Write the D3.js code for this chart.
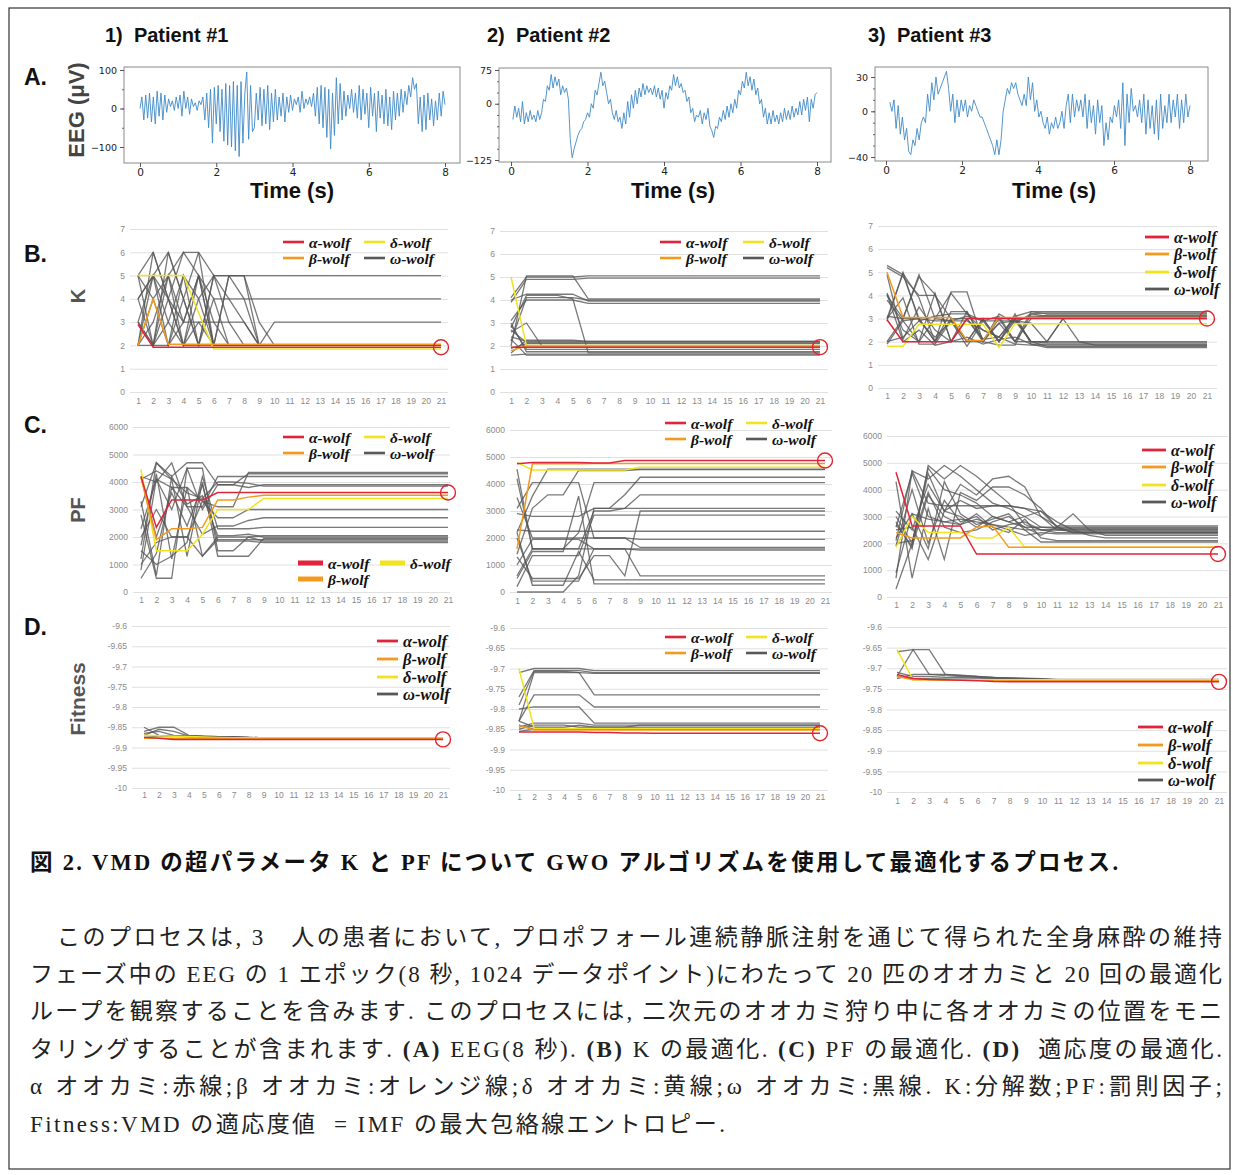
<!DOCTYPE html>
<html><head><meta charset="utf-8">
<script src="https://cdn.jsdelivr.net/npm/d3@7"></script>
<style>body{margin:0;background:#fff}svg{display:block}</style>
</head><body>
<svg id="c" width="1233" height="1175"></svg>
<script>
// ---------------- DATA ----------------
const patients = ["1)  Patient #1", "2)  Patient #2", "3)  Patient #3"];
const rowLetters = ["A.", "B.", "C.", "D."];
const eegXTicks = [0, 2, 4, 6, 8];
const eeg1Ticks = [-100, 0, 100], eeg1Minor = [-100, -50, 0, 50, 100];
const eeg2Ticks = [-125, 0, 75], eeg2Minor = [-125, -100, -75, -50, -25, 0, 25, 50, 75];
const eeg3Ticks = [-40, 0, 30], eeg3Minor = [-40, -30, -20, -10, 0, 10, 20, 30];
const eeg1Span = [0, 8], eeg2Span = [0.05, 8], eeg3Span = [0.1, 8];
const eeg1 = [0,30,-30,35,-25,40,-35,30,-40,45,-20,40,-30,35,-10,25,5,20,-5,30,0,35,-20,45,0,30,
 -15,25,5,15,-5,20,10,30,
 -30,40,-50,50,-90,55,-40,60,-60,50,-85,65,-95,60,-100,70,-110,60,-125,70,-90,40,95,-80,60,-60,-50,
 40,-30,55,-45,50,-40,60,-55,40,-35,50,-30,
 30,-20,40,-35,30,-10,35,-5,25,10,30,-10,45,0,25,10,30,5,40,-20,55,-40,60,-50,
 55,-75,50,-105,40,-70,80,-40,65,-30,
 45,-20,35,0,50,-10,40,-25,60,-30,50,-15,40,-50,55,-20,40,-60,45,-25,35,-40,50,-45,30,-55,45,-30,40,-20,50,-10,45,10,60,30,80,50,65,
 -40,30,-60,35,-55,40,-30,25,-45,20,-30,40,-20,45,10];
const eeg2 = [-35,-5,-30,-10,-40,5,-45,-20,-40,-15,-35,-25,-40,-15,-35,-20,
 10,5,40,30,65,35,60,40,55,
 20,40,25,35,10,
 -80,-120,-100,-85,
 -70,-60,-55,-40,-35,-20,-30,0,-10,30,20,45,70,
 40,50,25,0,10,-20,-35,-15,-40,-30,-55,-20,
 -45,5,-30,20,-10,30,0,35,15,45,20,40,25,35,20,40,15,35,10,30,
 -10,25,10,40,30,65,40,60,35,45,25,
 30,5,15,-20,-10,-40,-25,-30,-15,-45,
 -20,-35,-10,-50,-60,-75,-50,-55,-30,-40,
 -15,-35,-5,-30,0,-20,10,-10,30,20,
 50,35,70,40,60,30,55,20,35,0,
 10,-30,-10,-45,-20,-45,-15,-40,-25,-45,
 -20,-40,-10,-35,-15,-35,-5,-30,-10,-25,
 5,-25,10,-15,15,-40,10,-10,20,25];
const eeg3 = [8,0,10,-15,5,-20,-5,-25,-15,-35,
 -38,-25,-30,-15,-25,-10,-5,-10,
 15,0,25,10,30,15,20,25,30,35,
 20,0,15,-10,10,-5,10,0,
 10,-5,5,0,10,5,0,-5,
 -5,-10,-15,-20,-25,-30,-38,-25,-38,-25,
 0,10,20,15,25,20,25,15,10,5,
 15,5,30,10,25,0,10,-5,0,-10,
 -15,-5,-20,-10,-15,-5,-15,-10,0,-15,5,15,-10,15,
 -5,10,0,10,-5,15,-15,10,-10,5,-20,10,-10,5,
 -30,-10,-25,-5,-10,5,-5,10,-15,25,-30,
 15,-10,20,0,5,-5,10,-10,15,-20,10,-15,5,-20,
 10,-25,15,-15,5,-10,15,-10,10,-5,15,-15,10,-10,15,-5,5];

const iterations = [1,2,3,4,5,6,7,8,9,10,11,12,13,14,15,16,17,18,19,20,21];
const kTicks = [0,1,2,3,4,5,6,7];
const pfTicks = [0,1000,2000,3000,4000,5000,6000];
const fitTicks = [-10,-9.95,-9.9,-9.85,-9.8,-9.75,-9.7,-9.65,-9.6];
const wolfNames = ["α-wolf","β-wolf","δ-wolf","ω-wolf"];

// ---- K, patient 1
const kP1Alpha = [2.9,1.92,1.92,1.92,1.92,1.92,1.92,1.92,1.92,1.92,1.92,1.92,1.92,1.92,1.92,1.92,1.92,1.92,1.92,1.92,1.92];
const kP1Beta  = [2,4,2.05,2.05,2.05,2.05,2.05,2.05,2.05,2.05,2.05,2.05,2.05,2.05,2.05,2.05,2.05,2.05,2.05,2.05,2.05];
const kP1Delta = [5,5,5,5,3.4,1.85,1.85,1.85,1.85,1.85,1.85,1.85,1.85,1.85,1.85,1.85,1.85,1.85,1.85,1.85,1.85];
const kP1Omega = [
 [5,4,5,6,6,5,5,5,5,5,5,5,5,5,5,5,5,5,5,5,5],
 [2,5,3,2,4,5,4,4,4,4,4,4,4,4,4,4,4,4,4,4,4],
 [3,2,6,4,2,5,3,3,2,3,3,3,3,3,3,3,3,3,3,3,3],
 [2,6,4,2,5,2,5,5,2,2,2,2,2,2,2,2,2,2,2,2,2],
 [5,2,3,5,2,5,5,4,2,2,2,2,2,2,2,2,2,2,2,2,2],
 [4,5,2,4,6,2,2,2,2,2,2,2,2,2,2,2,2,2,2,2,2],
 [2,3,5,2,2,4,2,2,2,2,2,2,2,2,2,2,2,2,2,2,2],
 [3,2,2,5,4,2,2,2,2,2,2,2,2,2,2,2,2,2,2,2,2],
 [5,6,4,2,3,3,3,2,2,2,2,2,2,2,2,2,2,2,2,2,2],
 [2,4,2,3,5,4,4,3,2,2,2,2,2,2,2,2,2,2,2,2,2],
 [4,5,6,4,2,2,2,2,2,2,2,2,2,2,2,2,2,2,2,2,2],
 [2,2,4,3,5,3,2,2,2,2,2,2,2,2,2,2,2,2,2,2,2],
 [3,5,4,6,5,2,5,5,3,2,2,2,2,2,2,2,2,2,2,2,2],
 [4,2,5,3,3,2,2,2,2,2,2,2,2,2,2,2,2,2,2,2,2]];
// ---- K, patient 2
const kP2Alpha = [1.95,1.95,1.95,1.95,1.95,1.95,1.95,1.95,1.95,1.95,1.95,1.95,1.95,1.95,1.95,1.95,1.95,1.95,1.95,1.95,1.95];
const kP2Beta  = [1.8,2,2,2,2,2,2,2,2,2,2,2,2,2,2,2,2,2,2,2,2];
const kP2Delta = [5,2.02,2.02,2.02,2.02,2.02,2.02,2.02,2.02,2.02,2.02,2.02,2.02,2.02,2.02,2.02,2.02,2.02,2.02,2.02,2.02];
const kP2Omega = [
 [4.1,5,5,5,5,5.05,5.05,5.05,5.05,5.05,5.05,5.05,5.05,5.05,5.05,5.05,5.05,5.05,5.05,5.05,5.05],
 [3.9,4.9,4.9,4.9,4.9,4.95,4.95,4.95,4.95,4.95,4.95,4.95,4.95,4.95,4.95,4.95,4.95,4.95,4.95,4.95,4.95],
 [2,5.05,5.05,5.05,5.05,4.05,4.05,4.05,4.05,4.05,4.05,4.05,4.05,4.05,4.05,4.05,4.05,4.05,4.05,4.05,4.05],
 [4,4.25,4.25,4.25,4.25,3.95,3.95,3.95,3.95,3.95,3.95,3.95,3.95,3.95,3.95,3.95,3.95,3.95,3.95,3.95,3.95],
 [2.2,4.1,4.1,4.1,4.1,4,4,4,4,4,4,4,4,4,4,4,4,4,4,4,4],
 [3.1,4,4,4,4,3.85,3.85,3.85,3.85,3.85,3.85,3.85,3.85,3.85,3.85,3.85,3.85,3.85,3.85,3.85,3.85],
 [2.8,4.2,4.2,4.2,4.05,1.7,1.7,1.7,1.7,1.7,1.7,1.7,1.7,1.7,1.7,1.7,1.7,1.7,1.7,1.7,1.7],
 [2.6,3,2,2,2,2,2,2,2,2,2,2,2,2,2,2,2,2,2,2,2],
 [2.4,2.2,2.2,2.2,2.2,2.2,2.2,2.2,2.2,2.2,2.2,2.2,2.2,2.2,2.2,2.2,2.2,2.2,2.2,2.2,2.2],
 [1.9,2.1,2.1,2.1,2.1,2.1,2.1,2.1,2.1,2.1,2.1,2.1,2.1,2.1,2.1,2.1,2.1,2.1,2.1,2.1,2.1],
 [2.3,1.6,1.6,1.6,1.6,1.6,1.6,1.6,1.6,1.6,1.6,1.6,1.6,1.6,1.6,1.6,1.6,1.6,1.6,1.6,1.6],
 [1.6,1.65,1.65,1.65,1.65,1.65,1.65,1.65,1.65,1.65,1.65,1.65,1.65,1.65,1.65,1.65,1.65,1.65,1.65,1.65,1.65],
 [3,1.75,1.75,1.75,1.75,1.75,1.75,1.75,1.75,1.75,1.75,1.75,1.75,1.75,1.75,1.75,1.75,1.75,1.75,1.75,1.75],
 [2.9,1.85,1.85,1.85,1.85,1.85,1.85,1.85,1.85,1.85,1.85,1.85,1.85,1.85,1.85,1.85,1.85,1.85,1.85,1.85,1.85],
 [2.7,2.15,2.15,2.15,2.15,2.15,2.15,2.15,2.15,2.15,2.15,2.15,2.15,2.15,2.15,2.15,2.15,2.15,2.15,2.15,2.15],
 [1.7,2.25,2.25,2.25,2.25,2.2,2.2,2.2,2.2,2.2,2.2,2.2,2.2,2.2,2.2,2.2,2.2,2.2,2.2,2.2,2.2]];
// ---- K, patient 3
const kP3Alpha = [2.95,2,2,2,2,3,3,3,3,3,3,3,3,3,3,3,3,3,3,3,3];
const kP3Beta  = [5,3.05,3.05,3.05,3.05,2.05,2.05,3.05,3.05,3.05,3.05,3.05,3.05,3.05,3.05,3.05,3.05,3.05,3.05,3.05,3.05];
const kP3Delta = [1.8,1.8,2.75,2.75,2.75,2.75,2.75,1.75,2.78,2.78,2.78,2.78,2.78,2.78,2.78,2.78,2.78,2.78,2.78,2.78,2.78];
const kP3Omega = [
 [5.3,4.9,3,2,3,2,3,2,3,2,1.95,1.95,1.95,1.95,1.95,1.95,1.95,1.95,1.95,1.95,1.95],
 [5.2,4.8,4,4,3,3,2,3,2,3,3.15,3.15,3.15,3.15,3.15,3.15,3.15,3.15,3.15,3.15,3.15],
 [4,3,4.9,3,4.1,3.2,2.5,2.2,3,2,2,2,2,2,2,2,2,2,2,2,2],
 [3,4.95,3.9,2,4.15,4.15,2,3.2,2.8,3.2,3.25,3.25,3.25,3.25,3.25,3.25,3.25,3.25,3.25,3.25,3.25],
 [2,3,4.8,4.05,2,3.3,2,2.8,2,3.3,3.2,3.2,3.2,3.2,3.2,3.2,3.2,3.2,3.2,3.2,3.2],
 [4.1,2.5,2,4.1,2,2,3,2,2.9,2,2,3,2,1.85,1.85,1.85,1.85,1.85,1.85,1.85,1.85],
 [3,3.9,1.9,1.9,2.9,1.8,2.9,2,3.2,1.9,1.9,1.9,1.9,1.9,1.9,1.9,1.9,1.9,1.9,1.9,1.9],
 [2.9,5,2.9,3.1,3.2,3.2,2.9,2.9,2.9,3.1,3.1,3.1,3.1,3.1,3.1,3.1,3.1,3.1,3.1,3.1,3.1],
 [2,2.2,2.9,2.2,2.9,2.9,2.5,2.2,1.9,1.85,1.85,1.85,1.85,1.85,1.85,1.85,1.85,1.85,1.85,1.85,1.85],
 [3.1,3,3,2.9,2.9,2,2,1.85,1.85,3.2,3.1,3.1,3.1,3.1,3.1,3.1,3.1,3.1,3.1,3.1,3.1],
 [4.9,2.1,3.5,2.5,2,3,2.1,2.8,2.9,2.8,2,3,3,3,3,3,3,3,3,3,3],
 [1.9,2.9,2,3,2.9,3.1,2.9,3.1,2,2,1.8,1.8,1.8,1.8,1.8,1.8,1.8,1.8,1.8,1.8,1.8],
 [3.8,2.9,3,2,3.3,3.3,2.1,2.2,3.1,3.3,3.3,3.3,3.3,3.3,3.3,3.3,3.3,3.3,3.3,3.3,3.3],
 [4.05,2,2.5,1.85,2,2.2,1.9,2.1,2.2,1.9,1.75,1.75,1.75,1.75,1.75,1.75,1.75,1.75,1.75,1.75,1.75]];

// ---- PF, patient 1
const pfP1Alpha = [4200,2350,3350,3350,3350,3620,3620,3620,3620,3620,3620,3620,3620,3620,3620,3620,3620,3620,3620,3620,3620];
const pfP1Beta  = [4150,1900,2300,2300,2350,3350,3350,3450,3520,3520,3520,3520,3520,3520,3520,3520,3520,3520,3520,3520,3520];
const pfP1Delta = [4450,1500,1500,1500,2100,3000,3000,3000,3400,3400,3400,3400,3400,3400,3400,3400,3400,3400,3400,3400,3400];
const pfP1Omega = [
 [3100,4700,4200,4700,4700,3900,3900,4300,4300,4300,4300,4300,4300,4300,4300,4300,4300,4300,4300,4300,4300],
 [4200,4000,4700,3100,3100,4200,4200,4200,4200,4200,4200,4200,4200,4200,4200,4200,4200,4200,4200,4200,4200],
 [4100,4400,4100,3600,3400,4000,4000,3950,3850,3850,3850,3850,3850,3850,3850,3850,3850,3850,3850,3850,3850],
 [2300,4100,3000,4500,3000,3900,3900,3800,3900,3900,3900,3900,3900,3900,3900,3900,3900,3900,3900,3900,3900],
 [800,4100,3800,3800,3300,2700,2700,3000,3000,3000,3000,3000,3000,3000,3000,3000,3000,3000,3000,3000,3000],
 [500,1400,3800,3100,2100,2400,2400,2600,2700,2700,2700,2700,2700,2700,2700,2700,2700,2700,2700,2700,2700],
 [1500,1000,1300,1800,4200,2300,2300,2300,2350,2350,2350,2350,2350,2350,2350,2350,2350,2350,2350,2350,2350],
 [2000,3000,2000,2000,1300,2000,2000,2000,2050,2050,2050,2050,2050,2050,2050,2050,2050,2050,2050,2050,2050],
 [1200,4700,4100,1300,4000,1300,1300,1300,1950,1950,1950,1950,1950,1950,1950,1950,1950,1950,1950,1950,1950],
 [2800,500,500,4500,4500,1500,1500,2000,1850,1850,1850,1850,1850,1850,1850,1850,1850,1850,1850,1850,1850],
 [1700,4300,1200,3800,1300,1900,1900,1900,1900,1900,1900,1900,1900,1900,1900,1900,1900,1900,1900,1900,1900],
 [4200,2000,3600,2400,3900,1850,1850,1850,1800,1800,1800,1800,1800,1800,1800,1800,1800,1800,1800,1800,1800],
 [3300,600,4200,3200,3500,2050,2050,2100,2000,2000,2000,2000,2000,2000,2000,2000,2000,2000,2000,2000,2000],
 [1000,1800,2000,2000,3300,3100,3100,4350,4350,4350,4350,4350,4350,4350,4350,4350,4350,4350,4350,4350,4350]];
// ---- PF, patient 2
const pfP2Alpha = [4750,4800,4800,4800,4800,4780,4780,4870,4870,4870,4870,4870,4870,4870,4870,4870,4870,4870,4870,4870,4870];
const pfP2Beta  = [1600,4750,4750,4750,4750,4760,4760,4760,4760,4760,4760,4760,4760,4760,4760,4760,4760,4760,4760,4760,4760];
const pfP2Delta = [4800,4520,4520,4520,4520,4520,4520,4520,4620,4620,4620,4620,4620,4620,4620,4620,4620,4620,4620,4620,4620];
const pfP2Omega = [
 [4550,1600,1600,1600,1600,1600,1600,1600,1600,1600,1600,1600,1600,1600,1600,1600,1600,1600,1600,1600,1600],
 [2200,3550,4550,4550,4550,4550,4550,4550,4550,4550,4550,4550,4550,4550,4550,4550,4550,4550,4550,4550,4550],
 [1400,3100,3600,3600,4500,4500,4500,4500,4530,4530,4530,4530,4530,4530,4530,4530,4530,4530,4530,4530,4530],
 [3100,4050,4050,4050,4050,2000,2000,2000,1950,1950,1950,1950,1950,1950,1950,1950,1950,1950,1950,1950,1950],
 [2900,2800,2800,2800,2800,3100,3100,3600,4250,4250,4250,4250,4250,4250,4250,4250,4250,4250,4250,4250,4250],
 [600,1600,1600,1600,2200,4050,4050,4050,4050,4050,4050,4050,4050,4050,4050,4050,4050,4050,4050,4050,4050],
 [4200,1600,1600,1600,1600,3000,3000,3100,3600,3600,3600,3600,3600,3600,3600,3600,3600,3600,3600,3600,3600],
 [2300,2250,2250,2250,2250,2250,2250,2250,2250,2250,2250,2250,2250,2250,2250,2250,2250,2250,2250,2250,2250],
 [1000,1950,1950,1950,1950,1600,1600,1600,1550,1550,1550,1550,1550,1550,1550,1550,1550,1550,1550,1550,1550],
 [200,1350,1350,1350,1350,2850,2850,2850,2850,2850,2850,2850,2850,2850,2850,2850,2850,2850,2850,2850,2850],
 [0,0,0,0,600,3100,3100,3100,3100,3100,3100,3100,3100,3100,3100,3100,3100,3100,3100,3100,3100],
 [500,1500,1500,1500,3550,300,300,300,300,300,300,300,300,300,300,300,300,300,300,300,300],
 [1300,500,500,500,500,1350,1350,600,3000,3000,3000,3000,3000,3000,3000,3000,3000,3000,3000,3000,3000],
 [2000,400,400,400,400,1600,1600,1600,600,600,600,600,600,600,600,600,600,600,600,600,600],
 [2200,250,250,250,1500,450,450,450,450,450,450,450,450,450,450,450,450,450,450,450,450],
 [3500,2000,2000,2000,2000,2000,2000,2000,1650,1650,1650,1650,1650,1650,1650,1650,1650,1650,1650,1650,1650]];
// ---- PF, patient 3
const pfP3Alpha = [4650,2650,2650,2650,2650,1600,1600,1600,1600,1600,1600,1600,1600,1600,1600,1600,1600,1600,1600,1600,1600];
const pfP3Beta  = [2400,2200,2200,2200,2200,2600,2650,1850,1850,1850,1850,1850,1850,1850,1850,1850,1850,1850,1850,1850,1850];
const pfP3Delta = [1850,3000,2400,2400,2400,2200,2200,2600,1850,1850,1850,1850,1850,1850,1850,1850,1850,1850,1850,1850,1850];
const pfP3Omega = [
 [2100,4700,3500,3400,3400,3400,3400,3400,3300,3000,2650,2650,2650,2650,2650,2650,2650,2650,2650,2650,2650],
 [300,2000,4800,4000,3800,3500,3000,2800,2600,2600,2600,2600,2600,2600,2600,2600,2600,2600,2600,2600,2600],
 [700,4700,4400,4900,4500,4000,3500,3300,3000,2600,2550,2550,2550,2550,2550,2550,2550,2550,2550,2550,2550],
 [2800,1800,4900,4400,4900,4500,4000,3500,2700,2500,2500,2500,2500,2500,2500,2500,2500,2500,2500,2500,2500],
 [3000,2000,4600,3200,4200,3800,4400,4500,4100,3000,2500,2450,2450,2450,2450,2450,2450,2450,2450,2450,2450],
 [4300,700,3300,1400,3900,3600,4100,4100,3800,3300,2600,2400,2400,2400,2400,2400,2400,2400,2400,2400,2400],
 [2500,2600,1400,3200,3000,2600,3000,2800,3000,3200,2600,2400,2400,2400,2400,2400,2400,2400,2400,2400,2400],
 [1900,4000,2000,3600,2800,3000,2500,2700,2800,2500,2500,2500,2500,2500,2500,2500,2500,2500,2500,2500,2500],
 [2200,3100,2900,2800,2700,2900,2700,2600,2500,2500,2400,2400,2400,2400,2400,2400,2400,2400,2400,2400,2400],
 [3200,2500,4200,3200,3600,3300,3400,3400,3300,3200,2800,2500,2300,2200,2200,2200,2200,2200,2200,2200,2200],
 [2600,4600,3000,2800,2900,2800,2700,2500,2300,2400,2350,2350,2350,2350,2350,2350,2350,2350,2350,2350,2350],
 [2000,2100,3900,2600,2400,2500,2800,3000,2600,2300,2600,3100,2500,2300,2300,2300,2300,2300,2300,2300,2300],
 [2700,1900,3800,3000,2700,3100,2600,2400,2900,2200,2100,2100,2100,2100,2100,2100,2100,2100,2100,2100,2100],
 [900,3100,1800,4300,3100,2700,2900,3100,2500,2050,2050,2050,2050,2050,2050,2050,2050,2050,2050,2050,2050]];

// ---- Fitness, patient 1
const fitP1Alpha = [-9.875,-9.877,-9.88,-9.88,-9.88,-9.88,-9.88,-9.88,-9.88,-9.88,-9.88,-9.88,-9.88,-9.88,-9.88,-9.88,-9.88,-9.88,-9.88,-9.88,-9.88];
const fitP1Beta  = [-9.877,-9.877,-9.877,-9.877,-9.877,-9.877,-9.878,-9.878,-9.878,-9.878,-9.878,-9.878,-9.878,-9.878,-9.878,-9.878,-9.878,-9.878,-9.878,-9.878,-9.878];
const fitP1Delta = [-9.87,-9.871,-9.872,-9.873,-9.874,-9.875,-9.876,-9.876,-9.876,-9.876,-9.876,-9.876,-9.876,-9.876,-9.876,-9.876,-9.876,-9.876,-9.876,-9.876,-9.876];
const fitP1Omega = [
 [-9.85,-9.87,-9.872,-9.873,-9.874,-9.875,-9.875,-9.876,-9.876,-9.876,-9.876,-9.876,-9.876,-9.876,-9.876,-9.876,-9.876,-9.876,-9.876,-9.876,-9.876],
 [-9.86,-9.85,-9.85,-9.87,-9.872,-9.873,-9.874,-9.875,-9.876,-9.876,-9.876,-9.876,-9.876,-9.876,-9.876,-9.876,-9.876,-9.876,-9.876,-9.876,-9.876],
 [-9.87,-9.855,-9.86,-9.872,-9.873,-9.873,-9.874,-9.875,-9.876,-9.876,-9.876,-9.876,-9.876,-9.876,-9.876,-9.876,-9.876,-9.876,-9.876,-9.876,-9.876],
 [-9.865,-9.86,-9.87,-9.871,-9.872,-9.873,-9.873,-9.875,-9.876,-9.876,-9.876,-9.876,-9.876,-9.876,-9.876,-9.876,-9.876,-9.876,-9.876,-9.876,-9.876],
 [-9.875,-9.872,-9.872,-9.873,-9.874,-9.875,-9.876,-9.876,-9.876,-9.876,-9.876,-9.876,-9.876,-9.876,-9.876,-9.876,-9.876,-9.876,-9.876,-9.876,-9.876]];
// ---- Fitness, patient 2
const fitP2Alpha = [-9.857,-9.857,-9.857,-9.857,-9.857,-9.858,-9.858,-9.859,-9.859,-9.86,-9.86,-9.86,-9.86,-9.86,-9.86,-9.86,-9.86,-9.86,-9.86,-9.86,-9.86];
const fitP2Beta  = [-9.84,-9.852,-9.852,-9.852,-9.852,-9.852,-9.852,-9.852,-9.852,-9.852,-9.852,-9.852,-9.852,-9.852,-9.852,-9.852,-9.852,-9.852,-9.852,-9.852,-9.852];
const fitP2Delta = [-9.7,-9.848,-9.848,-9.848,-9.848,-9.848,-9.848,-9.848,-9.848,-9.848,-9.848,-9.848,-9.848,-9.848,-9.848,-9.848,-9.848,-9.848,-9.848,-9.848,-9.848];
const fitP2Omega = [
 [-9.71,-9.7,-9.7,-9.7,-9.7,-9.705,-9.705,-9.705,-9.705,-9.705,-9.705,-9.705,-9.705,-9.705,-9.705,-9.705,-9.705,-9.705,-9.705,-9.705,-9.705],
 [-9.77,-9.705,-9.705,-9.705,-9.705,-9.71,-9.71,-9.71,-9.71,-9.71,-9.71,-9.71,-9.71,-9.71,-9.71,-9.71,-9.71,-9.71,-9.71,-9.71,-9.71],
 [-9.83,-9.71,-9.71,-9.71,-9.71,-9.712,-9.712,-9.712,-9.712,-9.712,-9.712,-9.712,-9.712,-9.712,-9.712,-9.712,-9.712,-9.712,-9.712,-9.712,-9.712],
 [-9.79,-9.707,-9.707,-9.707,-9.71,-9.765,-9.765,-9.765,-9.765,-9.765,-9.765,-9.765,-9.765,-9.765,-9.765,-9.765,-9.765,-9.765,-9.765,-9.765,-9.765],
 [-9.83,-9.765,-9.765,-9.765,-9.765,-9.795,-9.795,-9.795,-9.795,-9.795,-9.795,-9.795,-9.795,-9.795,-9.795,-9.795,-9.795,-9.795,-9.795,-9.795,-9.795],
 [-9.8,-9.795,-9.795,-9.795,-9.795,-9.835,-9.835,-9.835,-9.835,-9.835,-9.835,-9.835,-9.835,-9.835,-9.835,-9.835,-9.835,-9.835,-9.835,-9.835,-9.835],
 [-9.845,-9.835,-9.835,-9.835,-9.835,-9.84,-9.84,-9.84,-9.84,-9.84,-9.84,-9.84,-9.84,-9.84,-9.84,-9.84,-9.84,-9.84,-9.84,-9.84,-9.84],
 [-9.85,-9.84,-9.84,-9.84,-9.845,-9.845,-9.845,-9.845,-9.845,-9.845,-9.845,-9.845,-9.845,-9.845,-9.845,-9.845,-9.845,-9.845,-9.845,-9.845,-9.845],
 [-9.83,-9.845,-9.845,-9.845,-9.84,-9.845,-9.845,-9.845,-9.84,-9.84,-9.84,-9.84,-9.84,-9.84,-9.84,-9.84,-9.84,-9.84,-9.84,-9.84,-9.84],
 [-9.84,-9.85,-9.85,-9.85,-9.85,-9.85,-9.85,-9.85,-9.85,-9.85,-9.85,-9.85,-9.85,-9.85,-9.85,-9.85,-9.85,-9.85,-9.85,-9.85,-9.85],
 [-9.855,-9.85,-9.85,-9.85,-9.85,-9.85,-9.85,-9.85,-9.85,-9.85,-9.85,-9.85,-9.85,-9.85,-9.85,-9.85,-9.85,-9.85,-9.85,-9.85,-9.85]];
// ---- Fitness, patient 3
const fitP3Alpha = [-9.715,-9.725,-9.727,-9.728,-9.729,-9.73,-9.732,-9.733,-9.733,-9.733,-9.733,-9.733,-9.733,-9.733,-9.733,-9.733,-9.733,-9.733,-9.733,-9.733,-9.733];
const fitP3Beta  = [-9.72,-9.728,-9.728,-9.729,-9.729,-9.73,-9.73,-9.73,-9.73,-9.73,-9.73,-9.73,-9.73,-9.73,-9.73,-9.73,-9.73,-9.73,-9.73,-9.73,-9.73];
const fitP3Delta = [-9.655,-9.728,-9.728,-9.728,-9.728,-9.728,-9.728,-9.728,-9.728,-9.728,-9.728,-9.728,-9.728,-9.728,-9.728,-9.728,-9.728,-9.728,-9.728,-9.728,-9.728];
const fitP3Omega = [
 [-9.66,-9.655,-9.655,-9.715,-9.718,-9.72,-9.722,-9.724,-9.725,-9.726,-9.728,-9.728,-9.728,-9.728,-9.728,-9.728,-9.728,-9.728,-9.728,-9.728,-9.728],
 [-9.72,-9.655,-9.715,-9.715,-9.717,-9.72,-9.722,-9.723,-9.724,-9.725,-9.727,-9.727,-9.727,-9.727,-9.727,-9.727,-9.727,-9.727,-9.727,-9.727,-9.727],
 [-9.725,-9.715,-9.715,-9.718,-9.72,-9.722,-9.724,-9.725,-9.726,-9.727,-9.728,-9.728,-9.728,-9.728,-9.728,-9.728,-9.728,-9.728,-9.728,-9.728,-9.728],
 [-9.71,-9.72,-9.72,-9.722,-9.723,-9.724,-9.725,-9.726,-9.727,-9.727,-9.728,-9.728,-9.728,-9.728,-9.728,-9.728,-9.728,-9.728,-9.728,-9.728,-9.728],
 [-9.72,-9.725,-9.725,-9.726,-9.727,-9.727,-9.728,-9.728,-9.728,-9.728,-9.729,-9.729,-9.729,-9.729,-9.729,-9.729,-9.729,-9.729,-9.729,-9.729,-9.729]];

const captionTitle = "図 2. VMD の超パラメータ K と PF について GWO アルゴリズムを使用して最適化するプロセス.";
const captionLines = [
 [["このプロセスは, 3　人の患者において, プロポフォール連続静脈注射を通じて得られた全身麻酔の維持", false]],
 [["フェーズ中の EEG の 1 エポック(8 秒, 1024 データポイント)にわたって 20 匹のオオカミと 20 回の最適化", false]],
 [["ループを観察することを含みます. このプロセスには, 二次元のオオカミ狩り中に各オオカミの位置をモニ", false]],
 [["タリングすることが含まれます. ", false], ["(A)", true], [" EEG(8 秒). ", false], ["(B)", true], [" K の最適化. ", false], ["(C)", true], [" PF の最適化. ", false], ["(D)", true], ["  適応度の最適化.", false]],
 [["α オオカミ:赤線;β オオカミ:オレンジ線;δ オオカミ:黄線;ω オオカミ:黒線. K:分解数;PF:罰則因子;", false]],
 [["Fitness:VMD の適応度値  = IMF の最大包絡線エントロピー.", false]]];

// ---------------- DRAWING ----------------
const svg = d3.select("#c");
const COL = {a: "#e0253a", b: "#f29a1d", d: "#f1e31f", w: "#585858"};
svg.append("rect").attr("x", 9).attr("y", 8).attr("width", 1221).attr("height", 1161)
  .attr("fill", "none").attr("stroke", "#333").attr("stroke-width", 1.2);

const headerX = [105, 487, 868];
patients.forEach((p, i) => svg.append("text").attr("x", headerX[i]).attr("y", 42)
  .attr("font-family", "Liberation Sans, Arial, sans-serif").attr("font-weight", "bold")
  .attr("font-size", 20).style("white-space", "pre").attr("fill", "#111").text(p));
const letterY = [85, 262, 433, 635];
rowLetters.forEach((l, i) => svg.append("text").attr("x", 24).attr("y", letterY[i])
  .attr("font-family", "Liberation Sans, Arial, sans-serif").attr("font-weight", "bold")
  .attr("font-size", 23).attr("fill", "#111").text(l));

function rotLabel(text, cx, cy, size, color) {
  svg.append("text").attr("transform", `translate(${cx},${cy}) rotate(-90)`)
    .attr("text-anchor", "middle").attr("dominant-baseline", "central")
    .attr("font-family", "Liberation Sans, Arial, sans-serif").attr("font-weight", "bold")
    .attr("font-size", size).attr("fill", color).text(text);
}
rotLabel("EEG (μV)", 76, 110, 22, "#444");
rotLabel("K", 78, 296, 20, "#555");
rotLabel("PF", 78, 510, 20, "#555");
rotLabel("Fitness", 77, 699, 21, "#555");

// ---- EEG panels
function eegPanel(box, xr, yd, yr, values, span, ticks, minor, labelX) {
  const x = d3.scaleLinear().domain([0, 8]).range(xr);
  const y = d3.scaleLinear().domain(yd).range(yr);
  const g = svg.append("g");
  const dt = (span[1] - span[0]) / (values.length - 1);
  g.append("path").datum(values)
    .attr("d", d3.line().x((d, i) => x(span[0] + i * dt)).y(d => y(d)))
    .attr("fill", "none").attr("stroke", "#3f8ac6").attr("stroke-width", 0.9);
  g.append("rect").attr("x", box[0]).attr("y", box[1]).attr("width", box[2] - box[0]).attr("height", box[3] - box[1])
    .attr("fill", "none").attr("stroke", "#8a8a8a").attr("stroke-width", 1);
  const ax = g.append("g").attr("transform", `translate(0,${box[3]})`)
    .call(d3.axisBottom(x).tickValues(eegXTicks).tickSize(4).tickPadding(2).tickFormat(d3.format("d")));
  ax.select(".domain").remove();
  ax.selectAll("text").attr("font-family", "DejaVu Sans, sans-serif").attr("font-size", 10.5).attr("fill", "#222");
  ax.selectAll("line").attr("stroke", "#555");
  const ayM = g.append("g").attr("transform", `translate(${box[0]},0)`)
    .call(d3.axisLeft(y).tickValues(minor).tickSize(2).tickFormat(""));
  ayM.select(".domain").remove();
  ayM.selectAll("line").attr("stroke", "#666");
  const ay = g.append("g").attr("transform", `translate(${box[0]},0)`)
    .call(d3.axisLeft(y).tickValues(ticks).tickSize(4).tickPadding(3));
  ay.select(".domain").remove();
  ay.selectAll("text").attr("font-family", "DejaVu Sans, sans-serif").attr("font-size", 9.5).attr("fill", "#222");
  ay.selectAll("line").attr("stroke", "#555");
  g.append("text").attr("x", labelX).attr("y", 198).attr("text-anchor", "middle")
    .attr("font-family", "Liberation Sans, Arial, sans-serif").attr("font-weight", "bold")
    .attr("font-size", 22).attr("fill", "#111").text("Time (s)");
}
eegPanel([124, 67, 460, 163], [140, 445], [-100, 100], [147, 70], eeg1, eeg1Span, eeg1Ticks, eeg1Minor, 292);
eegPanel([499, 68, 831, 162], [511, 817], [-125, 75], [160, 70], eeg2, eeg2Span, eeg2Ticks, eeg2Minor, 673);
eegPanel([875, 67, 1208, 161], [886, 1190], [-40, 30], [157, 77], eeg3, eeg3Span, eeg3Ticks, eeg3Minor, 1054);

// ---- wolf panels
function legend(items, L, size, width) {
  const g = svg.append("g");
  items.forEach(it => {
    g.append("line").attr("x1", it[1]).attr("x2", it[1] + L).attr("y1", it[2]).attr("y2", it[2])
      .attr("stroke", it[3]).attr("stroke-width", width);
    g.append("text").attr("x", it[1] + L + 5).attr("y", it[2]).attr("dominant-baseline", "central")
      .attr("font-family", "Liberation Serif, Times New Roman, serif").attr("font-style", "italic")
      .attr("font-weight", "bold").attr("font-size", size).attr("fill", "#111").text(it[0]);
  });
}
function leg2x2(x1, x2, y1, y2, L) {
  legend([[wolfNames[0], x1, y1, COL.a], [wolfNames[2], x2, y1, COL.d], [wolfNames[1], x1, y2, COL.b], [wolfNames[3], x2, y2, COL.w]], L, 15.5, 2.6);
}
function legVert(x, ys, L, size) {
  legend([[wolfNames[0], x, ys[0], COL.a], [wolfNames[1], x, ys[1], COL.b], [wolfNames[2], x, ys[2], COL.d], [wolfNames[3], x, ys[3], COL.w]], L, size, 2.8);
}

function wolfPanel(cfg, ticks, fmt, alpha, beta, delta, omega) {
  const x = d3.scaleLinear().domain([1, 21]).range([cfg.x1, cfg.x21]);
  const y = d3.scaleLinear().domain([ticks[0], ticks[ticks.length - 1]]).range([cfg.yb, cfg.yt]);
  const g = svg.append("g");
  const ay = g.append("g").attr("transform", `translate(${cfg.gx0},0)`)
    .call(d3.axisLeft(y).tickValues(ticks).tickSize(-(cfg.gx1 - cfg.gx0)).tickPadding(5).tickFormat(fmt));
  ay.select(".domain").remove();
  ay.selectAll("line").attr("stroke", "#e0e0e0").attr("stroke-width", 1);
  ay.selectAll("text").attr("font-family", "Liberation Sans, Arial, sans-serif").attr("font-size", 8.5).attr("fill", "#8a8a8a");
  const ax = g.append("g").attr("transform", `translate(0,${cfg.xlab - 8})`)
    .call(d3.axisBottom(x).tickValues(iterations).tickSize(0).tickPadding(3).tickFormat(d3.format("d")));
  ax.select(".domain").remove();
  ax.selectAll("text").attr("font-family", "Liberation Sans, Arial, sans-serif").attr("font-size", 8.5).attr("fill", "#8a8a8a");
  const line = d3.line().x((d, i) => x(iterations[i])).y(d => y(d));
  omega.forEach(o => g.append("path").attr("d", line(o)).attr("fill", "none")
    .attr("stroke", COL.w).attr("stroke-opacity", 0.8).attr("stroke-width", 1.3));
  [[delta, COL.d], [beta, COL.b], [alpha, COL.a]].forEach(s => g.append("path").attr("d", line(s[0]))
    .attr("fill", "none").attr("stroke", s[1]).attr("stroke-width", 1.5));
  g.append("circle").attr("cx", x(21)).attr("cy", y(alpha[alpha.length - 1])).attr("r", 7.5)
    .attr("fill", "none").attr("stroke", "#e0252f").attr("stroke-width", 1.4);
}
const fmtInt = d3.format("d");
const fmtFit = d => String(+d.toFixed(2));

wolfPanel({x1: 138, x21: 441, yb: 392, yt: 229, gx0: 130, gx1: 448, xlab: 403}, kTicks, fmtInt, kP1Alpha, kP1Beta, kP1Delta, kP1Omega);
wolfPanel({x1: 511, x21: 820, yb: 392, yt: 231, gx0: 500, gx1: 828, xlab: 403}, kTicks, fmtInt, kP2Alpha, kP2Beta, kP2Delta, kP2Omega);
wolfPanel({x1: 887, x21: 1207, yb: 388, yt: 226, gx0: 878, gx1: 1217, xlab: 398}, kTicks, fmtInt, kP3Alpha, kP3Beta, kP3Delta, kP3Omega);
wolfPanel({x1: 141, x21: 448, yb: 592, yt: 427, gx0: 133, gx1: 450, xlab: 602}, pfTicks, fmtInt, pfP1Alpha, pfP1Beta, pfP1Delta, pfP1Omega);
wolfPanel({x1: 517, x21: 825, yb: 592, yt: 430, gx0: 510, gx1: 832, xlab: 603}, pfTicks, fmtInt, pfP2Alpha, pfP2Beta, pfP2Delta, pfP2Omega);
wolfPanel({x1: 896, x21: 1218, yb: 597, yt: 436, gx0: 887, gx1: 1228, xlab: 607}, pfTicks, fmtInt, pfP3Alpha, pfP3Beta, pfP3Delta, pfP3Omega);
wolfPanel({x1: 144, x21: 443, yb: 788, yt: 626, gx0: 132, gx1: 450, xlab: 797}, fitTicks, fmtFit, fitP1Alpha, fitP1Beta, fitP1Delta, fitP1Omega);
wolfPanel({x1: 519, x21: 820, yb: 790, yt: 628, gx0: 510, gx1: 828, xlab: 799}, fitTicks, fmtFit, fitP2Alpha, fitP2Beta, fitP2Delta, fitP2Omega);
wolfPanel({x1: 897, x21: 1219, yb: 792, yt: 627, gx0: 887, gx1: 1227, xlab: 803}, fitTicks, fmtFit, fitP3Alpha, fitP3Beta, fitP3Delta, fitP3Omega);

leg2x2(283, 364, 242, 258, 21);
leg2x2(660, 743, 242, 258, 21);
legVert(1145, [237, 254, 272, 289], 24, 16);
leg2x2(283, 364, 437, 453, 21);
legend([[wolfNames[0], 298, 563, COL.a], [wolfNames[2], 380, 563, COL.d], [wolfNames[1], 298, 579, COL.b]], 25, 15.5, 5);
leg2x2(665, 746, 423, 439, 21);
legVert(1142, [450, 467, 485, 502], 24, 16);
legVert(377, [641, 659, 677, 694], 21, 16.5);
leg2x2(665, 746, 637, 653, 21);
legVert(1138, [727, 745, 763, 780], 25, 16.5);

// ---- caption
const capFont = "Liberation Serif, 'Noto Sans CJK JP', serif";
svg.append("text").attr("x", 30).attr("y", 870).attr("font-family", capFont).attr("font-weight", "bold")
  .attr("font-size", 22.5).attr("fill", "#111").attr("textLength", 1088).attr("lengthAdjust", "spacing").text(captionTitle);
const lineY = [945, 982, 1019, 1057, 1094, 1132];
const lineX = [57, 30, 30, 30, 30, 30];
const lineW = [1165, 1192, 1192, 1192, 1192, 695];
captionLines.forEach((parts, i) => {
  const t = svg.append("text").attr("x", lineX[i]).attr("y", lineY[i]).attr("font-family", capFont)
    .attr("font-size", 23).attr("fill", "#222").style("white-space", "pre");
  if (lineW[i] > 0) t.attr("textLength", lineW[i]).attr("lengthAdjust", "spacing");
  parts.forEach(p => t.append("tspan").attr("font-weight", p[1] ? "bold" : "normal").text(p[0]));
});
</script>
</body></html>
